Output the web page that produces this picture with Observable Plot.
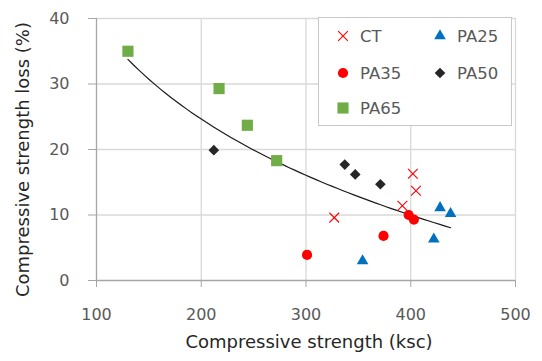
<!DOCTYPE html>
<html><head><meta charset="utf-8">
<script src="https://cdn.jsdelivr.net/npm/d3@7"></script>
<script src="https://cdn.jsdelivr.net/npm/@observablehq/plot@0.6"></script>
<style>
body{margin:0;background:#fff;}
#wrap{position:relative;width:542px;height:361px;}
#legend{position:absolute;left:318px;top:17px;width:194px;height:109px;border:1.5px solid #c8c8c8;background:#fff;box-sizing:border-box;}
#legend svg{position:absolute;left:0;top:0;}
</style></head><body><div id="wrap"></div>
<script>
// Data (x: compressive strength ksc, y: strength loss %)
const ctStrength = [327, 392, 402, 405];
const ctLoss = [9.6, 11.4, 16.3, 13.7];
const pa25Strength = [354, 422, 428, 438];
const pa25Loss = [3.0, 6.3, 11.1, 10.2];
const pa35Strength = [301, 374, 398, 403];
const pa35Loss = [3.9, 6.8, 10.0, 9.3];
const pa50Strength = [212, 337, 347, 371];
const pa50Loss = [19.9, 17.7, 16.2, 14.7];
const pa65Strength = [130, 217, 244, 272];
const pa65Loss = [35.0, 29.3, 23.7, 18.3];
const xTicks = [100, 200, 300, 400, 500];
const yTicks = [0, 10, 20, 30, 40];

const seriesList = [
  {name: "CT", xs: ctStrength, ys: ctLoss, symbol: "times", color: "#ff0000", r: 4.5, stroke: true},
  {name: "PA25", xs: pa25Strength, ys: pa25Loss, symbol: "triangle", color: "#0070c0", r: 4.3},
  {name: "PA35", xs: pa35Strength, ys: pa35Loss, symbol: "circle", color: "#ff0000", r: 5.1},
  {name: "PA50", xs: pa50Strength, ys: pa50Loss, symbol: "diamond2", color: "#262626", r: 4.8},
  {name: "PA65", xs: pa65Strength, ys: pa65Loss, symbol: "square", color: "#70ad47", r: 6.3}
];

const rows = seriesList.flatMap(s => s.xs.map((x, i) => ({series: s.name, x, y: s.ys[i]})));

// Logarithmic trendline fitted to all points (as in the original spreadsheet chart)
const lx = rows.map(d => Math.log(d.x)), ly = rows.map(d => d.y);
const mu = d3.mean(lx), my = d3.mean(ly);
const b = d3.sum(lx, (u, i) => (u - mu) * (ly[i] - my)) / d3.sum(lx, u => (u - mu) ** 2);
const a = my - b * mu;
const [xmin, xmax] = d3.extent(rows, d => d.x);
const trend = d3.range(0, 61).map(i => {
  const x = xmin + (xmax - xmin) * i / 60;
  return {x, y: a + b * Math.log(x)};
});

const font = "DejaVu Sans";
const plot = Plot.plot({
  width: 542, height: 361,
  marginLeft: 96, marginRight: 27, marginTop: 18, marginBottom: 81,
  style: {fontFamily: font, fontSize: "16px", background: "white", overflow: "visible"},
  x: {domain: [100, 500]},
  y: {domain: [0, 40]},
  marks: [
    Plot.gridX(xTicks.slice(1), {stroke: "#d9d9d9", strokeOpacity: 1, strokeWidth: 1.3}),
    Plot.gridY(yTicks.slice(1), {stroke: "#d9d9d9", strokeOpacity: 1, strokeWidth: 1.3}),
    Plot.ruleX([100], {stroke: "#a6a6a6", strokeWidth: 1.3}),
    Plot.ruleY([0], {stroke: "#a6a6a6", strokeWidth: 1.3}),
    Plot.axisX({ticks: xTicks, tickSize: 7, tickPadding: 21, stroke: "#a6a6a6", fill: "#595959", label: null, fontSize: 16}),
    Plot.axisY({ticks: yTicks, tickSize: 8, tickPadding: 19, stroke: "#a6a6a6", fill: "#595959", label: null, fontSize: 16}),
    Plot.line(trend, {x: "x", y: "y", stroke: "#1a1a1a", strokeWidth: 1.2}),
    ...seriesList.map(s => Plot.dot(rows.filter(d => d.series === s.name), {
      x: "x", y: "y", symbol: s.symbol, r: s.r,
      fill: s.stroke ? "none" : s.color,
      stroke: s.stroke ? s.color : "none",
      strokeWidth: 1.1
    })),
    Plot.text(["Compressive strength (ksc)"], {text: d => d, frameAnchor: "bottom", textAnchor: "middle", dy: 67, dx: 3, fontSize: 18, fill: "#262626"}),
    Plot.text(["Compressive strength loss (%)"], {text: d => d, frameAnchor: "left", textAnchor: "middle", rotate: -90, dx: -73, dy: 10, fontSize: 18, fill: "#262626"})
  ]
});
const wrap = document.getElementById("wrap");
wrap.appendChild(plot);

// Legend overlay
const legend = document.createElement("div");
legend.id = "legend";
wrap.appendChild(legend);
const lsvg = d3.select(legend).append("svg").attr("width", 194).attr("height", 109)
  .style("font-family", font).style("font-size", "16.5px");
const pos = {CT: [24, 18], PA25: [121, 18], PA35: [24, 55], PA50: [121, 55], PA65: [24, 90]};
const symMap = {times: d3.symbolTimes, triangle: d3.symbolTriangle, circle: d3.symbolCircle, diamond2: d3.symbolDiamond2, square: d3.symbolSquare};
seriesList.forEach(s => {
  const [cx, cy] = pos[s.name];
  lsvg.append("path")
    .attr("transform", `translate(${cx},${cy})`)
    .attr("d", d3.symbol(symMap[s.symbol], s.r * s.r * Math.PI)())
    .attr("fill", s.stroke ? "none" : s.color)
    .attr("stroke", s.stroke ? s.color : "none")
    .attr("stroke-width", 1.1);
  lsvg.append("text").attr("x", cx + 17).attr("y", cy).attr("dy", "0.36em")
    .attr("fill", "#595959").text(s.name);
});
</script>
</body></html>
